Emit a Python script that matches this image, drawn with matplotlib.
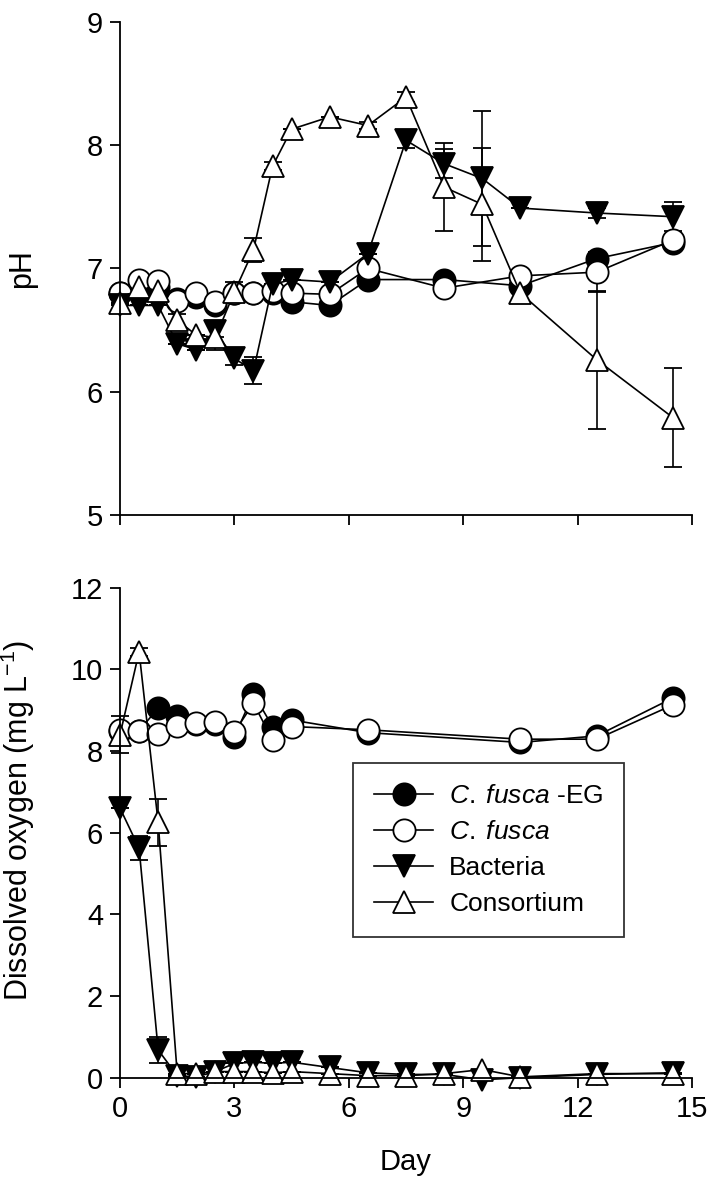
import matplotlib
matplotlib.use('Agg')
import matplotlib.pyplot as plt
from matplotlib.lines import Line2D

plt.rcParams['font.family'] = ['Liberation Sans', 'DejaVu Sans']
plt.rcParams['mathtext.fontset'] = 'custom'
plt.rcParams['mathtext.rm'] = 'Liberation Sans'
plt.rcParams['mathtext.it'] = 'Liberation Sans:italic'

# sampling days
days = [0, 0.5, 1, 1.5, 2, 2.5, 3, 3.5, 4, 4.5, 5.5, 6.5, 7.5, 8.5, 9.5, 10.5, 12.5, 14.5]
circle_days_ph = [0, 0.5, 1, 1.5, 2, 2.5, 3, 3.5, 4, 4.5, 5.5, 6.5, 8.5, 10.5, 12.5, 14.5]
circle_days_do = [0, 0.5, 1, 1.5, 2, 2.5, 3, 3.5, 4, 4.5, 6.5, 10.5, 12.5, 14.5]

# pH
ph_eg = [6.80, 6.85, 6.85, 6.75, 6.77, 6.70, 6.80, 6.80, 6.80, 6.73, 6.70, 6.91, 6.91, 6.86, 7.08, 7.21]
ph_cf = [6.80, 6.91, 6.90, 6.74, 6.80, 6.73, 6.80, 6.80, 6.82, 6.80, 6.79, 7.00, 6.84, 6.94, 6.97, 7.23]
ph_cf_err = [0, 0, 0, 0, 0, 0, 0, 0, 0, 0, 0, 0, 0, 0, 0.16, 0]
ph_bac = [6.70, 6.70, 6.70, 6.39, 6.34, 6.49, 6.27, 6.17, 6.87, 6.91, 6.89, 7.12, 8.04, 7.85, 7.73, 7.49, 7.45, 7.42]
ph_bac_err = [0, 0, 0, 0, 0, 0.05, 0.05, 0.11, 0, 0, 0, 0, 0.06, 0.12, 0.55, 0, 0.04, 0.12]
ph_con = [6.72, 6.85, 6.82, 6.58, 6.46, 6.44, 6.81, 7.15, 7.83, 8.13, 8.23, 8.16, 8.39, 7.66, 7.52, 6.80, 6.26, 5.79]
ph_con_err = [0, 0, 0, 0.05, 0, 0.10, 0.08, 0.10, 0.03, 0, 0, 0.03, 0.04, 0.36, 0.46, 0, 0.56, 0.40]

# dissolved oxygen (mg/L)
do_eg = [8.50, 8.50, 9.05, 8.85, 8.65, 8.65, 8.35, 9.40, 8.60, 8.76, 8.45, 8.21, 8.37, 9.30]
do_cf = [8.52, 8.50, 8.42, 8.61, 8.68, 8.70, 8.47, 9.17, 8.27, 8.60, 8.52, 8.29, 8.29, 9.13]
do_cf_err = [0, 0, 0, 0, 0, 0, 0, 0, 0, 0, 0, 0, 0, 0.2]
do_bac = [6.60, 5.62, 0.68, 0.05, 0.02, 0.15, 0.35, 0.38, 0.35, 0.38, 0.25, 0.12, 0.08, 0.08, -0.05, 0.00, 0.08, 0.12]
do_bac_err = [0, 0.30, 0.32, 0, 0, 0, 0, 0, 0, 0, 0, 0, 0, 0, 0, 0, 0, 0]
do_con = [8.40, 10.43, 6.25, 0.10, 0.10, 0.15, 0.15, 0.15, 0.12, 0.15, 0.10, 0.05, 0.05, 0.10, 0.20, 0.02, 0.10, 0.10]
do_con_err = [0.45, 0.10, 0.58, 0, 0, 0, 0, 0, 0, 0, 0, 0, 0, 0, 0, 0, 0, 0]

labels = [r'$\mathit{C.\;fusca}$ -EG', r'$\mathit{C.\;fusca}$', 'Bacteria', 'Consortium']
markers = ['o', 'o', 'v', '^']
fills = ['black', 'white', 'black', 'white']

fig = plt.figure(figsize=(7.09, 11.94), dpi=100)
ax1 = fig.add_axes([0.1693, 0.5687, 0.8067, 0.4129])
ax2 = fig.add_axes([0.1693, 0.0974, 0.8067, 0.4104])

ms = 16
lw = 1.2
style = dict(color='black', lw=lw, ms=ms, mec='black', mew=1.3, clip_on=False,
             capsize=6.5, elinewidth=1.2, capthick=1.2, ecolor='black')


def draw(ax, x_c, eg, cf, cf_err, bac, bac_err, con, con_err):
    ax.errorbar(x_c, eg, marker=markers[0], mfc=fills[0], **style)
    ax.errorbar(x_c, cf, yerr=cf_err, marker=markers[1], mfc=fills[1], **style)
    ax.errorbar(days, bac, yerr=bac_err, marker=markers[2], mfc=fills[2], **style)
    ax.errorbar(days, con, yerr=con_err, marker=markers[3], mfc=fills[3], **style)


draw(ax1, circle_days_ph, ph_eg, ph_cf, ph_cf_err, ph_bac, ph_bac_err, ph_con, ph_con_err)
draw(ax2, circle_days_do, do_eg, do_cf, do_cf_err, do_bac, do_bac_err, do_con, do_con_err)

for ax in (ax1, ax2):
    ax.set_xlim(0, 15)
    ax.set_xticks([0, 3, 6, 9, 12, 15])
    ax.spines['top'].set_visible(False)
    ax.spines['right'].set_visible(False)
    ax.spines['left'].set_linewidth(1.3)
    ax.spines['bottom'].set_linewidth(1.3)
    ax.tick_params(direction='out', length=7.2, width=1.3, labelsize=21, pad=5)

ax1.set_ylim(5, 9)
ax1.set_yticks([5, 6, 7, 8, 9])
ax1.set_xticklabels([])
ax1.set_ylabel('pH', fontsize=22)
ax1.yaxis.set_label_coords(-0.145, 0.5)

ax2.set_ylim(0, 12)
ax2.set_yticks([0, 2, 4, 6, 8, 10, 12])
ax2.set_ylabel('Dissolved oxygen (mg L$^{-1}$)', fontsize=22)
ax2.yaxis.set_label_coords(-0.145, 0.525)
ax2.set_xlabel('Day', fontsize=21, labelpad=18)

handles = [Line2D([], [], color='black', lw=lw, marker=m, ms=ms, mfc=f, mec='black', mew=1.3)
           for m, f in zip(markers, fills)]
leg = ax2.legend(handles, labels, loc='upper left', bbox_to_anchor=(0.407, 0.642),
                 borderaxespad=0, fontsize=19, frameon=True, fancybox=False,
                 edgecolor='black', handlelength=2.25, handletextpad=0.6,
                 labelspacing=0.45, borderpad=0.8)
leg.get_frame().set_linewidth(1.3)

fig.savefig('out.png', dpi=100)
